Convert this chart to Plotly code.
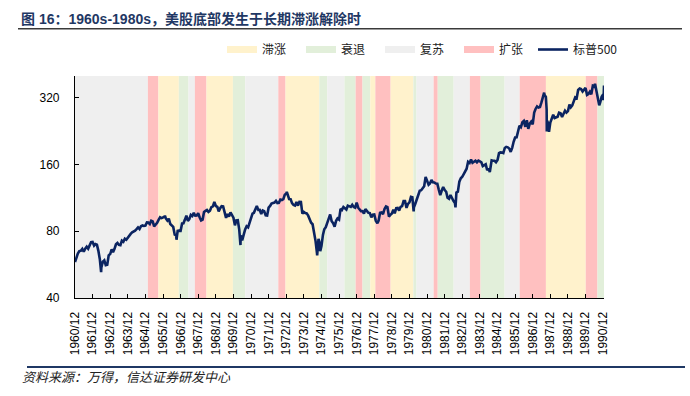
import numpy as np
import pandas as pd
import plotly.graph_objects as go

# ---------------- data ----------------
# S&P 500 month-end closes, 1960/12 .. 1990/12
sp500_monthly = [
    58.11,
    61.78, 63.44, 65.06, 65.31, 66.56, 64.64, 66.76, 68.07, 66.73, 68.62, 71.32, 71.55,
    68.84, 69.96, 69.55, 65.24, 59.63, 54.75, 58.23, 59.12, 56.27, 56.52, 62.26, 63.10,
    66.20, 64.29, 66.57, 69.80, 70.80, 69.37, 69.13, 72.50, 71.70, 74.01, 73.23, 75.02,
    77.04, 77.80, 78.98, 79.46, 80.37, 81.69, 83.18, 81.83, 84.18, 84.86, 84.42, 84.75,
    87.56, 87.43, 86.16, 89.11, 88.42, 84.12, 85.25, 87.17, 89.96, 92.42, 91.61, 92.43,
    92.88, 91.22, 89.23, 91.06, 86.13, 84.74, 83.60, 77.10, 76.56, 80.20, 80.45, 80.33,
    86.61, 86.78, 90.20, 94.01, 89.08, 90.64, 94.75, 93.64, 96.71, 93.90, 94.00, 96.47,
    92.24, 89.36, 90.20, 97.59, 98.68, 99.58, 97.74, 98.86, 102.67, 103.41, 108.37, 103.86,
    103.01, 98.13, 101.51, 103.69, 103.46, 97.71, 91.83, 95.51, 93.12, 97.24, 93.81, 92.06,
    85.02, 89.50, 89.63, 81.52, 76.55, 72.72, 78.05, 81.52, 84.21, 83.25, 87.20, 92.15,
    95.88, 96.75, 100.31, 103.95, 99.63, 99.70, 95.58, 99.03, 98.34, 94.23, 93.99, 102.09,
    103.94, 106.57, 107.20, 107.67, 109.53, 107.14, 107.39, 111.09, 110.55, 111.58, 116.67, 118.05,
    116.03, 111.68, 111.52, 106.97, 104.95, 104.26, 108.22, 104.25, 108.43, 108.29, 95.96, 97.55,
    96.57, 96.22, 93.98, 90.31, 87.28, 86.00, 79.31, 72.15, 63.54, 73.90, 69.97, 68.56,
    76.98, 81.59, 83.36, 87.30, 91.15, 95.19, 88.75, 86.88, 83.87, 89.04, 91.24, 90.19,
    100.86, 99.71, 102.77, 101.64, 100.18, 104.28, 103.44, 102.91, 105.24, 102.90, 102.10, 107.46,
    102.03, 99.82, 98.42, 98.44, 96.12, 100.48, 98.85, 96.77, 96.53, 92.34, 94.83, 95.10,
    89.25, 87.04, 89.21, 96.83, 97.24, 95.53, 100.68, 103.29, 102.54, 93.15, 94.70, 96.11,
    99.93, 96.28, 101.59, 101.76, 99.08, 102.91, 103.81, 109.32, 109.32, 101.82, 106.16, 107.94,
    114.16, 113.66, 102.09, 106.29, 111.24, 114.24, 121.67, 122.38, 125.46, 127.47, 140.52, 135.76,
    129.55, 131.27, 136.00, 132.81, 132.59, 131.21, 130.92, 122.79, 116.18, 121.89, 126.35, 122.55,
    120.40, 113.11, 111.96, 116.44, 111.88, 109.61, 107.09, 119.51, 120.42, 133.71, 138.54, 140.64,
    145.30, 148.06, 152.96, 164.42, 162.39, 168.11, 162.56, 164.40, 166.07, 163.55, 166.40, 164.93,
    163.41, 157.06, 159.18, 160.05, 150.55, 153.18, 150.66, 166.68, 166.10, 166.09, 163.58, 167.24,
    179.63, 181.18, 180.66, 179.83, 189.55, 191.85, 190.92, 188.63, 182.08, 189.82, 202.17, 211.28,
    211.78, 226.92, 238.90, 235.52, 247.35, 250.84, 236.12, 252.93, 231.32, 243.98, 249.22, 242.17,
    274.08, 284.20, 291.70, 288.36, 290.10, 304.00, 318.66, 329.80, 321.83, 251.79, 230.30, 247.08,
    257.07, 267.82, 258.89, 261.33, 262.16, 273.50, 272.02, 261.52, 271.91, 278.97, 273.70, 277.72,
    297.47, 288.86, 294.87, 309.64, 320.52, 317.98, 346.08, 351.45, 349.15, 340.36, 345.99, 353.40,
    329.08, 331.89, 339.94, 330.80, 361.23, 358.02, 356.15, 322.56, 306.05, 304.00, 322.22, 330.22,
]

# intra-month turning points
extra_dates = ["1962-06-26", "1966-02-09", "1966-10-07", "1970-05-26", "1973-01-11",
               "1974-10-03", "1974-12-06", "1978-03-06", "1980-03-27", "1982-08-12",
               "1984-07-24", "1987-08-25", "1987-10-16", "1987-10-19", "1987-12-04",
               "1990-07-16", "1990-10-11", "1991-01-09", "1991-01-18"]
extra_values = [52.32, 94.06, 73.20, 69.29, 120.24,
                62.28, 65.01, 86.90, 98.22, 102.42,
                147.82, 336.77, 282.70, 224.84, 223.92,
                368.95, 295.46, 311.49, 362.0]

# economic-cycle phases (shaded bands)
phase_start = ["1960-12-31", "1965-02-20", "1965-09-27", "1966-11-24", "1967-06-13",
               "1967-10-23", "1968-06-20", "1969-12-20", "1970-09-02", "1972-07-19",
               "1972-12-16", "1974-11-17", "1975-05-01", "1976-04-22", "1976-12-09",
               "1977-05-01", "1977-10-09", "1978-01-22", "1978-12-05", "1980-03-21",
               "1980-05-26", "1981-05-16", "1981-08-08", "1982-07-05", "1983-06-06",
               "1984-01-15", "1985-05-27", "1986-04-05", "1987-10-01", "1990-01-04",
               "1990-09-05"]
phase_end = phase_start[1:] + ["1991-01-18"]
phase_type = ["复苏", "扩张", "滞涨", "衰退", "复苏",
              "扩张", "滞涨", "衰退", "复苏", "扩张",
              "滞涨", "衰退", "复苏", "衰退", "扩张",
              "衰退", "滞涨", "扩张", "滞涨", "衰退",
              "复苏", "扩张", "衰退", "复苏", "扩张",
              "衰退", "复苏", "扩张", "滞涨", "扩张",
              "衰退"]

phase_names = ["滞涨", "衰退", "复苏", "扩张"]
phase_colors = {"滞涨": "#FFF2CC", "衰退": "#E2EFDA", "复苏": "#EFEFEF", "扩张": "#FFC0C0"}
legend_widths = {"滞涨": 34, "衰退": 34, "复苏": 34, "扩张": 29}

tick_years = list(range(1960, 1991))
tick_dates = [f"{y}-12-31" for y in tick_years]
tick_labels = [f"{y}/12" for y in tick_years]

y_ticks = [40, 80, 160, 320, 400]
y_tick_labels = ["40", "80", "160", "320", ""]

# ---------------- build series ----------------
monthly_dates = pd.date_range("1960-12-31", periods=len(sp500_monthly), freq="ME")
s = pd.Series(sp500_monthly, index=monthly_dates)
s2 = pd.Series(extra_values, index=pd.to_datetime(extra_dates))
series = pd.concat([s, s2]).sort_index()

NAVY = "#0B2461"
FONT = "Liberation Sans, Arial, Noto Sans CJK SC, sans-serif"
CJK = "Noto Sans CJK SC, Liberation Sans, sans-serif"

W, H = 690, 396
L, R, T, B = 75, 86, 73, 98
PW, PH = W - L - R, H - T - B


def px_x(x):
    return (x - L) / PW


def px_y(y):
    return (H - B - y) / PH


fig = go.Figure()

for name in phase_names:
    fig.add_trace(go.Scatter(x=[None], y=[None], mode="lines", name=name,
                             legendwidth=legend_widths[name],
                             line=dict(color=phase_colors[name], width=7)))

fig.add_trace(go.Scatter(x=series.index, y=series.values, mode="lines", name="标普500",
                         legendwidth=60,
                         line=dict(color=NAVY, width=2.6)))

shapes = []
for a, b, t in zip(phase_start, phase_end, phase_type):
    shapes.append(dict(type="rect", xref="x", yref="paper", x0=a, x1=b, y0=0, y1=1,
                       fillcolor=phase_colors[t], line=dict(width=0), layer="below"))
# title underline
shapes.append(dict(type="line", xref="paper", yref="paper",
                   x0=px_x(18), x1=px_x(682), y0=px_y(25), y1=px_y(25),
                   line=dict(color="#3A3A3A", width=1.5), layer="above"))
# source line
shapes.append(dict(type="line", xref="paper", yref="paper",
                   x0=px_x(27), x1=px_x(685), y0=px_y(368), y1=px_y(368),
                   line=dict(color="#1F3864", width=2), layer="above"))

fig.update_layout(
    width=W, height=H,
    margin=dict(l=L, r=R, t=T, b=B, pad=0),
    paper_bgcolor="white", plot_bgcolor="white",
    font=dict(family=FONT, size=12, color="#000000"),
    showlegend=True,
    shapes=shapes,
    legend=dict(orientation="h", xref="container", yref="container",
                x=222 / W, y=1 - 35 / H, xanchor="left", yanchor="top",
                font=dict(family=CJK, size=12, color="#222222"),
                itemwidth=30, entrywidthmode="pixels",
                tracegroupgap=0, bgcolor="rgba(0,0,0,0)"),
    xaxis=dict(type="date", range=["1960-12-31", "1991-01-18"],
               tickmode="array", tickvals=tick_dates, ticktext=tick_labels,
               tickangle=-90, ticks="inside", ticklen=4, tickcolor="#000",
               showline=True, linecolor="#000", linewidth=1.2, mirror=False,
               showgrid=False, zeroline=False,
               tickfont=dict(family=FONT, size=12, color="#000"), ticklabelstandoff=8),
    yaxis=dict(type="log", range=[np.log10(40), np.log10(400)],
               tickmode="array", tickvals=y_ticks, ticktext=y_tick_labels,
               ticks="inside", ticklen=4, tickcolor="#000",
               showline=True, linecolor="#000", linewidth=1.2,
               showgrid=False, zeroline=False,
               tickfont=dict(family=FONT, size=12, color="#000"), ticklabelstandoff=12),
)

fig.add_annotation(text="<b>图 16：1960s-1980s，美股底部发生于长期滞涨解除时</b>",
                   xref="paper", yref="paper", x=px_x(19), y=px_y(15),
                   xanchor="left", yanchor="middle", showarrow=False,
                   font=dict(family=FONT, size=14, color="#1F3864"))
fig.add_annotation(text="<i>资料来源：万得，信达证券研发中心</i>",
                   xref="paper", yref="paper", x=px_x(20), y=px_y(378),
                   xanchor="left", yanchor="middle", showarrow=False,
                   font=dict(family=CJK, size=13, color="#222222"))

fig.write_html("out.html", config={"displayModeBar": False},
               post_script="document.body.style.margin='0';document.body.style.overflow='hidden';")
